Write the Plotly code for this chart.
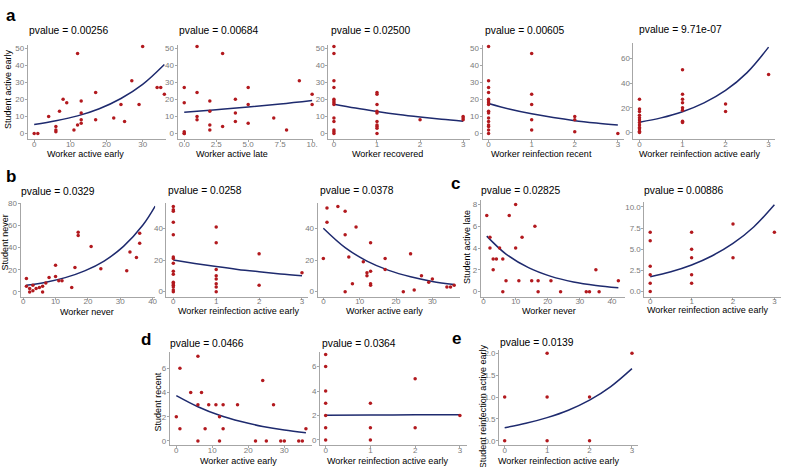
import plotly.graph_objects as go

W, H = 787, 467

# ---------------- data ----------------
a1_x = [0, 1, 4, 6, 6, 6, 7, 8, 9, 11, 12, 12, 13, 13, 13, 13, 17, 17, 22, 24, 25, 27, 29, 30, 34, 35, 36]
a1_y = [0, 0, 10, 4, 2, 1, 13, 20, 18, 2, 47, 5, 19, 12, 8, 6, 24, 8, 9, 17, 7, 31, 17, 51, 27, 27, 23]
a1_fit_x = [0, 6, 12, 18, 24, 30, 36]
a1_fit_y = [5.2, 7.4, 10.3, 14.5, 20.5, 28.8, 40.5]

a2_x = [0, 0, 0, 0, 0, 1, 1, 1, 1, 2, 2, 2, 2, 3, 3, 4, 4, 4, 5, 5, 5, 7, 8, 9, 10, 10]
a2_y = [27, 18, 1, 0, 0, 51, 24, 10, 8, 19, 13, 5, 2, 47, 4, 20, 12, 7, 27, 17, 6, 9, 2, 31, 23, 17]
a2_fit_x = [0, 2.5, 5, 7.5, 10]
a2_fit_y = [12.4, 13.9, 15.5, 17.3, 19.4]

a3_x = [0, 0, 0, 0, 0, 0, 0, 0, 0, 0, 0, 0, 0, 1, 1, 1, 1, 1, 1, 1, 1, 1, 1, 2, 3, 3, 3]
a3_y = [51, 47, 31, 27, 20, 19, 18, 17, 9, 7, 2, 1, 0, 24, 23, 17, 13, 12, 7, 5, 4, 3, 0, 8, 10, 9, 8]
a3_fit_x = [0, 0.5, 1, 1.5, 2, 2.5, 3]
a3_fit_y = [17.2, 14.9, 12.9, 11.1, 9.6, 8.3, 7.2]

a4_x = [0, 0, 0, 0, 0, 0, 0, 0, 0, 0, 0, 0, 0, 0, 0, 0, 1, 1, 1, 1, 1, 2, 2, 2, 3]
a4_y = [51, 31, 27, 24, 20, 19, 18, 17, 13, 12, 9, 7, 5, 4, 2, 0, 47, 23, 17, 8, 2, 10, 8, 1, 0]
a4_fit_x = [0, 0.5, 1, 1.5, 2, 2.5, 3]
a4_fit_y = [17.6, 14.2, 11.5, 9.3, 7.5, 6.1, 4.9]

a5_x = [0, 0, 0, 0, 0, 0, 0, 0, 0, 0, 0, 0, 1, 1, 1, 1, 1, 1, 1, 1, 2, 2, 3]
a5_y = [27, 19, 17, 14, 12, 10, 8, 6, 4, 3, 1, 0, 51, 31, 27, 24, 20, 18, 9, 8, 23, 17, 47]
a5_fit_x = [0, 0.5, 1, 1.5, 2, 2.5, 3]
a5_fit_y = [8.3, 11.8, 16.8, 24.0, 34.1, 48.6, 69.3]

b1_x = [1, 1, 2, 2, 3, 3, 4, 5, 6, 6, 7, 8, 10, 10, 11, 12, 15, 16, 17, 17, 21, 24, 32, 33, 35, 36, 36]
b1_y = [12, 5, 3, 0, 6, 1, 3, 4, 5, 0, 8, 13, 24, 14, 10, 10, 4, 22, 54, 51, 41, 21, 19, 36, 31, 53, 44]
b1_fit_x = [1, 7, 13, 19, 25, 31, 37, 40.8]
b1_fit_y = [6.0, 8.8, 12.9, 19.0, 27.9, 41.1, 60.4, 77.5]

b2_x = [0, 0, 0, 0, 0, 0, 0, 0, 0, 0, 0, 0, 0, 0, 0, 0, 1, 1, 1, 1, 1, 1, 1, 1, 2, 2, 3]
b2_y = [54, 52, 51, 44, 36, 22, 21, 18, 13, 11, 6, 5, 4, 3, 1, 0, 41, 31, 14, 10, 8, 5, 3, 0, 24, 4, 12]
b2_fit_x = [0, 0.5, 1, 1.5, 2, 2.5, 3]
b2_fit_y = [20.0, 17.9, 15.9, 14.1, 12.6, 11.2, 10.0]

b3_x = [0, 1, 1, 4, 6, 6, 6, 7, 8, 9, 11, 12, 12, 13, 13, 13, 13, 17, 17, 22, 24, 25, 27, 29, 30, 34, 35, 36]
b3_y = [21, 44, 53, 54, 51, 36, 0, 22, 5, 41, 19, 12, 10, 31, 13, 5, 4, 21, 14, 0, 24, 1, 10, 6, 8, 3, 3, 4]
b3_fit_x = [0, 6, 12, 18, 24, 30, 36]
b3_fit_y = [40.2, 27.9, 19.4, 13.5, 9.4, 6.5, 4.5]

c1_x = [1, 2, 2, 3, 3, 4, 5, 6, 6, 7, 8, 10, 10, 11, 12, 15, 16, 17, 17, 21, 24, 32, 33, 35, 36, 42]
c1_y = [7, 5, 4, 3, 2, 3, 4, 3, 0, 1, 7, 8, 4, 1, 5, 1, 6, 1, 0, 1, 0, 0, 0, 2, 0, 1]
c1_fit_x = [1, 7, 14, 21, 28, 35, 42]
c1_fit_y = [5.1, 3.45, 2.2, 1.4, 0.89, 0.57, 0.36]

c2_x = [0, 0, 0, 0, 0, 0, 1, 1, 1, 1, 1, 2, 2, 3]
c2_y = [7, 6, 3, 2, 1, 0, 7, 5, 4, 2, 1, 8, 4, 7]
c2_fit_x = [0, 0.5, 1, 1.5, 2, 2.5, 3]
c2_fit_y = [1.75, 2.35, 3.15, 4.24, 5.69, 7.64, 10.26]

d1_x = [0, 1, 1, 4, 6, 6, 6, 7, 8, 9, 11, 12, 12, 13, 13, 17, 22, 24, 25, 27, 29, 30, 34, 35, 36]
d1_y = [2, 6, 1, 4, 7, 3, 0, 4, 1, 3, 3, 2, 0, 3, 1, 3, 0, 5, 0, 3, 0, 0, 0, 0, 1]
d1_fit_x = [0, 6, 12, 18, 24, 30, 36]
d1_fit_y = [3.75, 2.83, 2.12, 1.6, 1.2, 0.9, 0.68]

d2_x = [0, 0, 0, 0, 0, 0, 0, 1, 1, 1, 2, 2, 3]
d2_y = [7, 6, 4, 3, 2, 1, 0, 3, 1, 0, 5, 1, 2]
d2_fit_x = [0, 1, 2, 3]
d2_fit_y = [2.03, 2.04, 2.06, 2.07]

e_x = [0, 0, 1, 1, 1, 2, 2, 3]
e_y = [1, 0, 2, 1, 0, 1, 0, 2]
e_fit_x = [0, 0.5, 1, 1.5, 2, 2.5, 3]
e_fit_y = [0.30, 0.40, 0.53, 0.70, 0.93, 1.24, 1.65]

pvalues = ["pvalue = 0.00256", "pvalue = 0.00684", "pvalue = 0.02500", "pvalue = 0.00605",
           "pvalue = 9.71e-07", "pvalue = 0.0329", "pvalue = 0.0258", "pvalue = 0.0378",
           "pvalue = 0.02825", "pvalue = 0.00886", "pvalue = 0.0466", "pvalue = 0.0364",
           "pvalue = 0.0139"]
x_titles = ["Worker active early", "Worker active late", "Worker recovered", "Worker reinfection recent",
            "Worker reinfection active early", "Worker never", "Worker reinfection active early",
            "Worker active early", "Worker never", "Worker reinfection active early",
            "Worker active early", "Worker reinfection active early", "Worker reinfection active early"]
y_titles = ["Student active early", None, None, None, None, "Student never", None, None,
            "Student active late", None, "Student recent", None, "Student reinfection active early"]
panel_letters = ["a", "b", "c", "d", "e"]

# ---------------- layout geometry (pixels) ----------------
panels = [
    dict(x=a1_x, y=a1_y, fx=a1_fit_x, fy=a1_fit_y, box=(28, 167, 41, 136.5), xr=[-1.75, 36.5], yr=[-3.3, 52.2],
         xt=[0, 10, 20, 30], yt=[0, 10, 20, 30, 40, 50], p=(27, 27), xtc=(86, 152), ytc=(8, 86)),
    dict(x=a2_x, y=a2_y, fx=a2_fit_x, fy=a2_fit_y, box=(178.5, 315, 41, 136.5), xr=[-0.52, 10.1], yr=[-3.3, 52.2],
         xt=[0, 2.5, 5, 7.5, 10], xtt=["0.0", "2.5", "5.0", "7.5", "10."], yt=[0, 10, 20, 30, 40, 50],
         p=(177.5, 27), xtc=(233, 152)),
    dict(x=a3_x, y=a3_y, fx=a3_fit_x, fy=a3_fit_y, box=(330, 472, 41, 136.5), xr=[-0.13, 3.15], yr=[-3.3, 52.2],
         xt=[0, 1, 2, 3], yt=[0, 10, 20, 30, 40, 50], p=(330.5, 27), xtc=(389, 152)),
    dict(x=a4_x, y=a4_y, fx=a4_fit_x, fy=a4_fit_y, box=(485, 627.5, 41, 136.5), xr=[-0.14, 3.15], yr=[-3.3, 52.2],
         xt=[0, 1, 2, 3], yt=[0, 10, 20, 30, 40, 50], p=(485, 27), xtc=(544, 152)),
    dict(x=a5_x, y=a5_y, fx=a5_fit_x, fy=a5_fit_y, box=(636.7, 779, 39.5, 136.5), xr=[-0.14, 3.15], yr=[-5.4, 72.6],
         xt=[0, 1, 2, 3], yt=[0, 20, 40, 60], p=(640, 26), xtc=(703, 152)),
    dict(x=b1_x, y=b1_y, fx=b1_fit_x, fy=b1_fit_y, box=(20.7, 156, 201, 295.7), xr=[-0.8, 40.8], yr=[-4.2, 80.5],
         xt=[0, 10, 20, 30, 40], yt=[0, 20, 40, 60, 80], p=(19.3, 190), xtc=(87, 311), ytc=(5, 241)),
    dict(x=b2_x, y=b2_y, fx=b2_fit_x, fy=b2_fit_y, box=(167.3, 310, 201, 295.7), xr=[-0.16, 3.15], yr=[-3.1, 56.3],
         xt=[0, 1, 2, 3], yt=[0, 20, 40], p=(166.7, 188.5), xtc=(240, 310)),
    dict(x=b3_x, y=b3_y, fx=b3_fit_x, fy=b3_fit_y, box=(319.3, 462.7, 201, 295.7), xr=[-1.56, 37.7], yr=[-3.1, 56.3],
         xt=[0, 10, 20, 30], yt=[0, 20, 40], p=(319.3, 188.5), xtc=(386, 310)),
    dict(x=c1_x, y=c1_y, fx=c1_fit_x, fy=c1_fit_y, box=(483.3, 628.3, 198.3, 295.7), xr=[-0.84, 44.1], yr=[-0.45, 8.4],
         xt=[0, 10, 20, 30, 40], yt=[0, 2, 4, 6, 8], p=(481.7, 188.5), xtc=(552, 310), ytc=(470, 246)),
    dict(x=c2_x, y=c2_y, fx=c2_fit_x, fy=c2_fit_y, box=(647.7, 784.6, 200, 295.7), xr=[-0.14, 3.15], yr=[-0.58, 10.6],
         xt=[0, 1, 2, 3], yt=[0, 2.5, 5, 7.5, 10], ytt=["0.0", "2.5", "5.0", "7.5", "10.0"],
         p=(645.7, 188.5), xtc=(711, 309)),
    dict(x=d1_x, y=d1_y, fx=d1_fit_x, fy=d1_fit_y, box=(170.7, 314, 351.7, 446), xr=[-1.8, 37.8], yr=[-0.35, 7.35],
         xt=[0, 10, 20, 30], yt=[0, 2, 4, 6], p=(169.3, 343.3), xtc=(240, 461.5), ytc=(158.5, 402)),
    dict(x=d2_x, y=d2_y, fx=d2_fit_x, fy=d2_fit_y, box=(321.7, 469, 351.7, 446), xr=[-0.125, 3.15], yr=[-0.43, 7.2],
         xt=[0, 1, 2, 3], yt=[0, 2, 4, 6], p=(321.7, 343.3), xtc=(389, 461.5)),
    dict(x=e_x, y=e_y, fx=e_fit_x, fy=e_fit_y, box=(501.7, 641.6, 350, 446), xr=[-0.13, 3.15], yr=[-0.1, 2.07],
         xt=[0, 1, 2, 3], yt=[0, 0.5, 1, 1.5, 2], ytt=["0.0", "0.5", "1.0", "1.5", "2.0"],
         p=(500.7, 341.7), xtc=(561, 461.5), ytc=(485, 407)),
]
letter_pos = [(11, 12), (11, 174), (458, 181), (147, 339), (459, 338)]

FONT = "Liberation Sans, Arial, sans-serif"
PT_COLOR = "#B2191E"
FIT_COLOR = "#1E2A6E"
AXIS_COLOR = "#A6A6A6"
TICK_FONT = dict(family=FONT, size=8, color="#7A7A7A")

fig = go.Figure()
annotations = []


def px(xp):
    return xp / W


def py(yp):
    return 1 - yp / H


for i, p in enumerate(panels):
    n = i + 1
    xa = "x" if n == 1 else f"x{n}"
    ya = "y" if n == 1 else f"y{n}"
    fig.add_trace(go.Scatter(x=p["fx"], y=p["fy"], mode="lines", line=dict(color=FIT_COLOR, width=1.5, shape="spline"),
                             xaxis=xa, yaxis=ya, showlegend=False, hoverinfo="skip"))
    fig.add_trace(go.Scatter(x=p["x"], y=p["y"], mode="markers", marker=dict(color=PT_COLOR, size=3.5),
                             xaxis=xa, yaxis=ya, showlegend=False, cliponaxis=False))
    L, R, T, B = p["box"]
    xkey = "xaxis" if n == 1 else f"xaxis{n}"
    ykey = "yaxis" if n == 1 else f"yaxis{n}"
    xaxis = dict(domain=[px(L), px(R)], anchor=ya, range=p["xr"], showgrid=False, zeroline=False,
                 showline=True, linecolor=AXIS_COLOR, linewidth=1, ticks="outside", ticklen=2,
                 tickcolor=AXIS_COLOR, tickfont=TICK_FONT, tickvals=p["xt"], fixedrange=True,
                 ticklabelstandoff=-5)
    if "xtt" in p:
        xaxis["ticktext"] = p["xtt"]
    yaxis = dict(domain=[py(B), py(T)], anchor=xa, range=p["yr"], showgrid=False, zeroline=False,
                 showline=True, linecolor=AXIS_COLOR, linewidth=1, ticks="outside", ticklen=2,
                 tickcolor=AXIS_COLOR, tickfont=TICK_FONT, tickvals=p["yt"], fixedrange=True,
                 ticklabelstandoff=-1)
    if "ytt" in p:
        yaxis["ticktext"] = p["ytt"]
    fig.update_layout(**{xkey: xaxis, ykey: yaxis})

    annotations.append(dict(x=px(p["p"][0]), y=py(p["p"][1]), xref="paper", yref="paper", text=pvalues[i],
                            showarrow=False, xanchor="left", yanchor="middle",
                            font=dict(family=FONT, size=10.3, color="black")))
    annotations.append(dict(x=px(p["xtc"][0]), y=py(p["xtc"][1]), xref="paper", yref="paper", text=x_titles[i],
                            showarrow=False, xanchor="center", yanchor="middle",
                            font=dict(family=FONT, size=9, color="black")))
    if y_titles[i]:
        annotations.append(dict(x=px(p["ytc"][0]), y=py(p["ytc"][1]), xref="paper", yref="paper",
                                text=y_titles[i], textangle=-90, showarrow=False, xanchor="center",
                                yanchor="middle", font=dict(family=FONT, size=9, color="black")))

for lt, (lx, ly) in zip(panel_letters, letter_pos):
    annotations.append(dict(x=px(lx), y=py(ly), xref="paper", yref="paper", text=f"<b>{lt}</b>",
                            showarrow=False, xanchor="center", yanchor="middle",
                            font=dict(family=FONT, size=17, color="black")))

fig.update_layout(width=W, height=H, margin=dict(l=0, r=0, t=0, b=0), autosize=False,
                  paper_bgcolor="white", plot_bgcolor="white", annotations=annotations,
                  font=dict(family=FONT))

fig.write_html("out.html", config={"displayModeBar": False, "staticPlot": True},
               post_script="document.body.style.margin='0';document.body.style.padding='0';"
                           "document.documentElement.style.overflow='hidden';")
